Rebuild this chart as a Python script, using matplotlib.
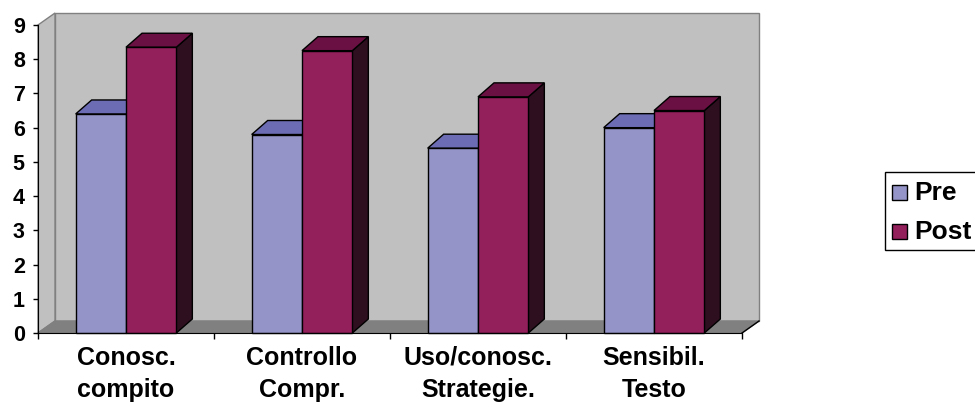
import matplotlib
matplotlib.use("Agg")
import matplotlib.pyplot as plt
from matplotlib.patches import Polygon, Rectangle

categories = ["Conosc.\ncompito", "Controllo\nCompr.", "Uso/conosc.\nStrategie.", "Sensibil.\nTesto"]
pre = [6.4, 5.8, 5.4, 6.0]
post = [8.35, 8.25, 6.9, 6.5]
series = ["Pre", "Post"]

plt.rcParams['font.family'] = ['Liberation Sans', 'DejaVu Sans']
plt.rcParams['font.weight'] = 'bold'

W, H = 975, 411
fig = plt.figure(figsize=(W / 100, H / 100), dpi=100)
ax = fig.add_axes([38 / W, 78 / H, 704 / W, 308 / H])
ax.set_xlim(0, 4)
ax.set_ylim(0, 9)
ax.patch.set_visible(False)

# depth of the 3d walls / bars in data units
wdx, wdy = 17 / 176, 12 / 34.2
bdx, bdy = 16 / 176, 14 / 34.2

# walls and floor
ax.add_patch(Polygon([(wdx, wdy), (4 + wdx, wdy), (4 + wdx, 9 + wdy), (wdx, 9 + wdy)],
                     closed=True, fc='#c0c0c0', ec='#808080', lw=1, clip_on=False, zorder=0))
ax.add_patch(Polygon([(0, 0), (wdx, wdy), (wdx, 9 + wdy), (0, 9)],
                     closed=True, fc='#c0c0c0', ec='#808080', lw=1, clip_on=False, zorder=0))
ax.add_patch(Polygon([(0, 0), (4, 0), (4 + wdx, wdy), (wdx, wdy)],
                     closed=True, fc='#808080', ec='#808080', lw=1, clip_on=False, zorder=0.5))
ax.plot([4, 4 + wdx], [0, wdy], color='black', lw=1, clip_on=False, zorder=0.6)


def bar3d(x, w, h, front, top, side):
    ax.add_patch(Polygon([(x + w, 0), (x + w + bdx, bdy), (x + w + bdx, h + bdy), (x + w, h)],
                         closed=True, fc=side, ec='black', lw=1, clip_on=False, zorder=3))
    ax.add_patch(Polygon([(x, h), (x + w, h), (x + w + bdx, h + bdy), (x + bdx, h + bdy)],
                         closed=True, fc=top, ec='black', lw=1, clip_on=False, zorder=3))
    ax.add_patch(Rectangle((x, 0), w, h, fc=front, ec='black', lw=1, clip_on=False, zorder=3))


bw = 0.286
for i in range(len(categories)):
    bar3d(i + 0.5 - bw, bw, pre[i], '#9494c8', '#6c6cb4', '#3c3c70')
    bar3d(i + 0.5, bw, post[i], '#931f5b', '#6a1042', '#2e0f20')

# axes
for s in ['top', 'right']:
    ax.spines[s].set_visible(False)
ax.spines['left'].set_color('black')
ax.spines['bottom'].set_color('black')
ax.spines['left'].set_zorder(4)
ax.spines['bottom'].set_zorder(4)

ax.set_yticks(range(10))
ax.tick_params(axis='y', direction='out', length=3.5, width=1, pad=6, labelsize=15.5)
ax.set_xticks(range(5))
ax.set_xticklabels([])
ax.tick_params(axis='x', which='major', direction='out', length=4.5, width=1)
ax.set_xticks([i + 0.5 for i in range(4)], minor=True)
ax.set_xticklabels(categories, minor=True, fontsize=18, linespacing=1.45)
ax.tick_params(axis='x', which='minor', length=0, pad=9)
for lbl in ax.get_yticklabels():
    lbl.set_fontweight('bold')

# legend box, cut at the right edge like the original
fig.add_artist(Rectangle((885 / W, 1 - 250 / H), 200 / W, 78 / H, transform=fig.transFigure,
                         fc='white', ec='black', lw=1))
colors = ['#9494c8', '#931f5b']
for k, name in enumerate(series):
    yc = 192.5 + 39 * k
    fig.add_artist(Rectangle((892 / W, 1 - (yc + 7.5) / H), 15 / W, 15 / H,
                             transform=fig.transFigure, fc=colors[k], ec='black', lw=1))
    fig.text(914 / W, 1 - yc / H, name, fontsize=19, fontweight='bold', va='center', ha='left')

fig.savefig("out.png", dpi=100)
